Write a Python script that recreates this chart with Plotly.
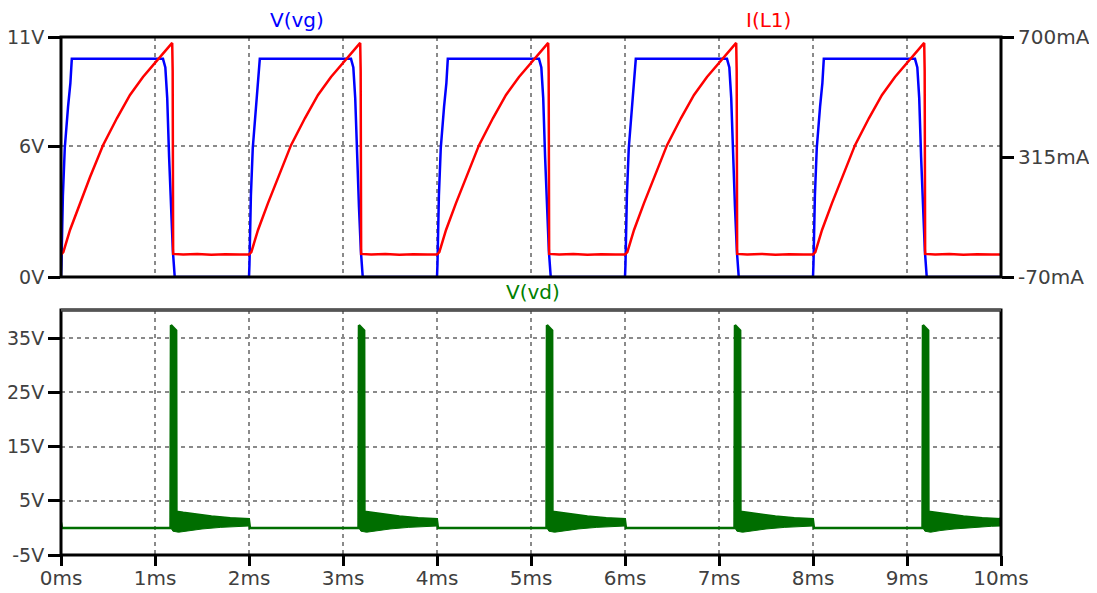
import plotly.graph_objects as go

# ---------------- data ----------------
cycle_starts_ms = [0, 2, 4, 6, 8]
end_ms = 10.0

# V(vg) during one switching cycle: time (ms, relative to cycle start), volts
vg_cycle_t = [0.0, 0.005, 0.02, 0.04, 0.075, 0.10, 0.115, 1.085, 1.11, 1.13, 1.15, 1.17, 1.19, 1.21]
vg_cycle_v = [0.0, 0.6, 3.7, 5.9, 7.8, 8.9, 10.0, 10.0, 9.6, 8.2, 5.5, 3.2, 1.2, 0.0]

# I(L1) during one switching cycle: time (ms), mA
il1_cycle_t = [0.0, 0.025, 0.096, 0.202, 0.309, 0.447, 0.596, 0.734, 0.872, 1.0,
               1.183, 1.188, 1.193, 1.30, 1.45, 1.60, 1.75, 1.90, 1.995]
il1_cycle_ma = [2, 10, 81, 167, 251, 353, 440, 514, 572, 617,
                681, 590, 4, 2, 4, 1, 3, 2, 3]

# V(vd): initial value at t=0
vd_initial_t = [0.0]
vd_initial_v = [1.0]
# V(vd) upper envelope during one cycle (ms, volts)
vd_upper_t = [0.01, 1.165, 1.17, 1.225, 1.228, 1.30, 1.45, 1.60, 1.80, 1.998]
vd_upper_v = [0.0, 0.0, 37.4, 36.4, 3.0, 2.8, 2.4, 2.1, 1.8, 1.6]
# V(vd) lower envelope of the ringing (ms, volts)
vd_lower_t = [1.17, 1.19, 1.25, 1.35, 1.50, 1.70, 1.90, 1.998]
vd_lower_v = [0.0, -0.6, -0.8, -0.5, -0.2, 0.1, 0.3, 0.35]
vd_final_v = [2.0, 0.2]   # upper / lower at 10 ms

# axis ticks
top_left_ticks = [0, 6, 11]
top_left_text = ["0V", "6V", "11V"]
top_right_ticks = [-70, 315, 700]
top_right_text = ["-70mA", "315mA", "700mA"]
bot_ticks = [-5, 5, 15, 25, 35]
bot_text = ["-5V", "5V", "15V", "25V", "35V"]
x_ticks = list(range(0, 11))
x_text = [f"{v}ms" for v in x_ticks]

# ---------------- build series ----------------
def tile(ct, cv):
    xs, ys = [], []
    for s in cycle_starts_ms:
        for t, v in zip(ct, cv):
            xs.append(s + t)
            ys.append(v)
    return xs, ys

vg_t, vg_v = tile(vg_cycle_t, vg_cycle_v)
vg_t.append(end_ms); vg_v.append(0.0)
il_t, il_v = tile(il1_cycle_t, il1_cycle_ma)
il_t.append(end_ms); il_v.append(2)
vd_t, vd_v = tile(vd_upper_t, vd_upper_v)
vd_t = vd_initial_t + vd_t + [end_ms]
vd_v = vd_initial_v + vd_v + [vd_final_v[0]]

BLUE = "#0000ff"
RED = "#ff0000"
GREEN = "#006e00"
FONT = "DejaVu Sans"

fig = go.Figure()

fig.add_trace(go.Scatter(x=vg_t, y=vg_v, mode="lines", line=dict(color=BLUE, width=2.5),
                         xaxis="x", yaxis="y", showlegend=False))
fig.add_trace(go.Scatter(x=il_t, y=il_v, mode="lines", line=dict(color=RED, width=2.5),
                         xaxis="x", yaxis="y2", showlegend=False))

# ringing bands
for i, s in enumerate(cycle_starts_ms):
    up_t = [s + t for t in vd_upper_t[1:]]
    up_v = list(vd_upper_v[1:])
    lo_t = [s + t for t in vd_lower_t]
    lo_v = list(vd_lower_v)
    if i == len(cycle_starts_ms) - 1:
        up_t.append(end_ms); up_v.append(vd_final_v[0])
        lo_t.append(end_ms); lo_v.append(vd_final_v[1])
    px = up_t + lo_t[::-1]
    py = up_v + lo_v[::-1]
    fig.add_trace(go.Scatter(x=px, y=py, mode="lines", fill="toself", fillcolor=GREEN,
                             line=dict(color=GREEN, width=1), xaxis="x2", yaxis="y3",
                             showlegend=False, hoverinfo="skip"))

fig.add_trace(go.Scatter(x=vd_t, y=vd_v, mode="lines", line=dict(color=GREEN, width=2.5),
                         xaxis="x2", yaxis="y3", showlegend=False))

tickfont = dict(family=FONT, size=20, color="#404040")
ytickfont = dict(family=FONT, size=19, color="#404040")
grid = dict(showgrid=True, gridcolor="#8a8a8a", gridwidth=1.5, griddash="4px,4px")
axbase = dict(showline=False, zeroline=False, automargin=False)

# page offset of the plot inside the browser body (default 8px body margin)
OFF = 8
PL, PT, PW, PH = 61, 37, 940, 518   # plot area in page pixels

top_dom = [(555 - 277) / PH, 1.0]
bot_dom = [0.0, (555 - 310) / PH]

fig.update_layout(
    width=1097 - OFF, height=593 - OFF,
    margin=dict(l=PL - OFF, r=1097 - PL - PW, t=PT - OFF, b=593 - PT - PH),
    paper_bgcolor="white", plot_bgcolor="white",
    xaxis=dict(domain=[0, 1], anchor="y", range=[0, 10], tickvals=x_ticks,
               showticklabels=False, ticks="", **grid, **axbase),
    yaxis=dict(domain=top_dom, anchor="x", range=[0, 11], tickvals=top_left_ticks,
               ticktext=top_left_text, ticks="outside", ticklen=12, tickwidth=3,
               tickcolor="black", tickfont=ytickfont, **grid, **axbase),
    yaxis2=dict(overlaying="y", side="right", anchor="x", range=[-70, 700],
                tickvals=top_right_ticks, ticktext=top_right_text, ticks="outside",
                ticklen=12, tickwidth=3, tickcolor="black", tickfont=tickfont,
                showgrid=False, **axbase),
    xaxis2=dict(domain=[0, 1], anchor="y3", range=[0, 10], tickvals=x_ticks,
                ticktext=x_text, ticks="outside", ticklen=10, tickwidth=3,
                ticklabelstandoff=-5,
                tickcolor="black", tickfont=tickfont, **grid, **axbase),
    yaxis3=dict(domain=bot_dom, anchor="x2", range=[-5, 40.2], tickvals=bot_ticks,
                ticktext=bot_text, ticks="outside", ticklen=12, tickwidth=3,
                tickcolor="black", tickfont=ytickfont, **grid, **axbase),
    shapes=[
        dict(type="rect", xref="x domain", yref="y domain", x0=0, x1=1, y0=0, y1=1,
             line=dict(color="black", width=3), layer="above"),
        dict(type="rect", xref="x2 domain", yref="y3 domain", x0=0, x1=1, y0=0, y1=1,
             line=dict(color="black", width=3), layer="above"),
        dict(type="line", xref="x2 domain", yref="y3 domain", x0=0, x1=1, y0=1, y1=1,
             line=dict(color="#555555", width=3), layer="above"),
        dict(type="line", xref="paper", yref="paper", x0=(1094 - PL) / PW, x1=(1094 - PL) / PW,
             y0=-(593 - PT - PH) / PH, y1=(555 - OFF) / PH,
             line=dict(color="#e4e4e4", width=1)),
    ],
    annotations=[
        dict(text="V(vg)", xref="paper", yref="paper", x=(297 - PL) / PW, y=(555 - 20) / PH,
             showarrow=False, xanchor="center", yanchor="middle",
             font=dict(family=FONT, size=20, color=BLUE)),
        dict(text="I(L1)", xref="paper", yref="paper", x=(768 - PL) / PW, y=(555 - 20) / PH,
             showarrow=False, xanchor="center", yanchor="middle",
             font=dict(family=FONT, size=20, color=RED)),
        dict(text="V(vd)", xref="paper", yref="paper", x=(533 - PL) / PW, y=(555 - 292) / PH,
             showarrow=False, xanchor="center", yanchor="middle",
             font=dict(family=FONT, size=20, color="#008000")),
    ],
)

fig.write_html("out.html")
